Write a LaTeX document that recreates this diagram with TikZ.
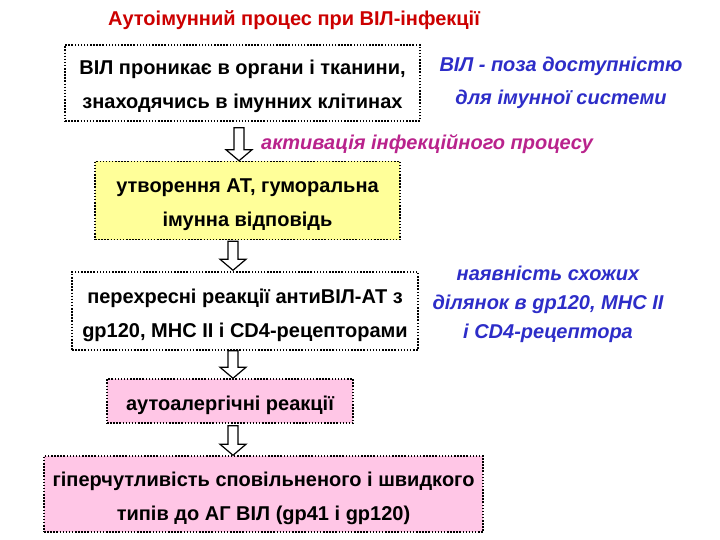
\documentclass[tikz,border=0pt]{standalone}
\usepackage{fontspec}
\setmainfont{Liberation Sans}
\usetikzlibrary{calc,positioning}

\definecolor{titlered}{RGB}{204,0,0}
\definecolor{noteblue}{RGB}{45,45,200}
\definecolor{notepurple}{RGB}{185,35,140}
\definecolor{boxyellow}{RGB}{255,255,153}
\definecolor{boxpink}{RGB}{255,198,230}

% struts to sit the box text a little low, as in the slide
\newcommand{\strutup}{\rule{0pt}{23pt}}
\newcommand{\strutdown}{\rule[-5pt]{0pt}{5pt}}

\tikzset{
  dotbox/.style={draw, line width=1.5pt, dash pattern=on 1.5pt off 1.6pt,
    align=center, inner sep=0pt, font=\bfseries\fontsize{20}{34}\selectfont},
  note/.style={align=center, font=\bfseries\itshape\fontsize{20}{33}\selectfont},
  blockarrow/.style={draw, line width=1.2pt, fill=white,
    to path={let \p1=(\tikztostart), \p2=(\tikztotarget) in
      (\x1-5pt,\y1) -- (\x1-5pt,\y2+11pt) -- (\x1-13pt,\y2+11pt) -- (\x2,\y2)
      -- (\x1+13pt,\y2+11pt) -- (\x1+5pt,\y2+11pt) -- (\x1+5pt,\y1) -- cycle}}
}

\begin{document}
\begin{tikzpicture}[x=1pt, y=-1pt]
\useasboundingbox (0,0) rectangle (720,540);

\node[titlered, font=\bfseries\fontsize{20}{24}\selectfont] (title) at (294,20) {Аутоімунний процес при ВІЛ-інфекції};

% main column
\node[dotbox, fill=white, minimum width=355, minimum height=76] (pronyk) at (242.5,83)
  {\strutup ВІЛ проникає в органи і тканини,\\знаходячись в імунних клітинах\strutdown};
\node[dotbox, fill=boxyellow, minimum width=305, minimum height=78] (utvor) at (247.5,200.5)
  {\strutup утворення АТ, гуморальна\\імунна відповідь\strutdown};
\node[dotbox, fill=white, minimum width=346, minimum height=78] (perekh) at (245,311)
  {\strutup перехресні реакції антиВІЛ-АТ з\\gp120, MHC II і CD4-рецепторами\strutdown};
\node[dotbox, fill=boxpink, minimum width=246, minimum height=44] (autoal) at (230,401)
  {\strutup аутоалергічні реакції\strutdown};
\node[dotbox, fill=boxpink, minimum width=439, minimum height=76] (hiper) at (263.5,494)
  {\strutup гіперчутливість сповільненого і швидкого\\типів до АГ ВІЛ (gp41 і gp120)\strutdown};

% side notes
\node[note, noteblue] (poza) at (561,83) {ВІЛ - поза доступністю\\для імунної системи};
\node[note, notepurple, font=\bfseries\itshape\fontsize{20}{24}\selectfont] (aktyv) at (427,144) {активація інфекційного процесу};
\node[note, noteblue, font=\bfseries\itshape\fontsize{20}{29}\selectfont] (skhozhi) at (548,304)
  {наявність схожих\\ділянок в gp120, MHC II\\і CD4-рецептора};

% arrows
\coordinate (arrx) at (236,0);
\draw[blockarrow] ($(pronyk.south -| arrx)+(3,6)$) to ($(utvor.north -| arrx)+(3,0)$);
\draw[blockarrow] ($(utvor.south -| arrx)+(-3,1)$) to ($(perekh.north -| arrx)+(-3,-1)$);
\draw[blockarrow] ($(perekh.south -| arrx)+(-3,0)$) to ($(autoal.north -| arrx)+(-3,0)$);
\draw[blockarrow] ($(autoal.south -| arrx)+(-3,2)$) to ($(hiper.north -| arrx)+(-3,0)$);
\end{tikzpicture}
\end{document}
